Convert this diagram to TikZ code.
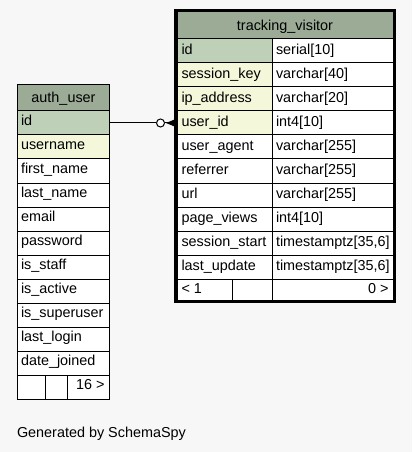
\documentclass[tikz,border=0pt]{standalone}
\usepackage{fontspec}
\setmainfont{Liberation Sans}
\usetikzlibrary{calc}
\definecolor{bgc}{HTML}{F7F7F7}
\definecolor{hdrc}{HTML}{9BAB96}
\definecolor{pkc}{HTML}{BED1B8}
\definecolor{idxc}{HTML}{F4F7DA}
\newcommand\cellbox[6]{\node[cellst, fill=#6, minimum width={(#4-#2)*0.75pt}, minimum height={(#5-#3)*0.75pt}] (#1) at ({(#2+#4)/2},{(#3+#5)/2}) {};}
\newcommand\tvrow[4]{%
  \pgfmathsetmacro\ya{39+24*(#1-1)}\pgfmathsetmacro\yb{\ya+24}%
  \cellbox{tvn#1}{177}{\ya}{272}{\yb}{#4}%
  \cellbox{tvt#1}{272}{\ya}{393}{\yb}{white}%
  \node[txt,anchor=base west] (tvnt#1) at (181.5,\ya+15.3) {#2};%
  \node[txt,anchor=base west] (tvtt#1) at (276,\ya+15.3) {#3};}
\newcommand\aurow[3]{%
  \pgfmathsetmacro\ya{111+24*(#1-1)}\pgfmathsetmacro\yb{\ya+24}%
  \cellbox{au#1}{17.5}{\ya}{109.5}{\yb}{#3}%
  \node[txt,anchor=base west] (aut#1) at (21,\ya+14.8) {#2};}
\begin{document}
\begin{tikzpicture}[x=0.75pt,y=-0.75pt,
  cellst/.style={draw=black, line width=0.75pt, inner sep=0pt, outer sep=0pt, rectangle},
  txt/.style={inner sep=0pt, outer sep=0pt, font=\fontsize{10.8pt}{13pt}\selectfont}]
\fill[bgc] (0,0) rectangle (412,452);
\useasboundingbox (0,0) rectangle (412,452);

% tracking_visitor
\cellbox{tvh}{177}{12}{393}{39}{hdrc}
\node[txt,anchor=base] (tvht) at (285,31) {tracking\_visitor};
\tvrow{1}{id}{serial[10]}{pkc}
\tvrow{2}{session\_key}{varchar[40]}{idxc}
\tvrow{3}{ip\_address}{varchar[20]}{idxc}
\tvrow{4}{user\_id}{int4[10]}{idxc}
\tvrow{5}{user\_agent}{varchar[255]}{white}
\tvrow{6}{referrer}{varchar[255]}{white}
\tvrow{7}{url}{varchar[255]}{white}
\tvrow{8}{page\_views}{int4[10]}{white}
\tvrow{9}{session\_start}{timestamptz[35,6]}{white}
\tvrow{10}{last\_update}{timestamptz[35,6]}{white}
\cellbox{tvf1}{177}{279}{232}{300}{white}
\cellbox{tvf2}{232}{279}{272}{300}{white}
\cellbox{tvf3}{272}{279}{393}{300}{white}
\node[txt,anchor=base west] (tvf1t) at (181.5,293) {< 1};
\node[txt,anchor=base east] (tvf3t) at (388.5,293) {0 >};
\draw[line width=2.4pt] (175.5,10.5) rectangle (394.5,301.3);

% auth_user
\cellbox{auh}{17.5}{85}{109.5}{111}{hdrc}
\node[txt,anchor=base] (auht) at (63.5,103) {auth\_user};
\aurow{1}{id}{pkc}
\aurow{2}{username}{idxc}
\aurow{3}{first\_name}{white}
\aurow{4}{last\_name}{white}
\aurow{5}{email}{white}
\aurow{6}{password}{white}
\aurow{7}{is\_staff}{white}
\aurow{8}{is\_active}{white}
\aurow{9}{is\_superuser}{white}
\aurow{10}{last\_login}{white}
\aurow{11}{date\_joined}{white}
\cellbox{auf1}{17.5}{375}{45.5}{399}{white}
\cellbox{auf2}{45.5}{375}{67.5}{399}{white}
\cellbox{auf3}{67.5}{375}{109.5}{399}{white}
\node[txt,anchor=base east] (auf3t) at (104.5,389) {16 >};

% connector
\node[circle, draw=black, fill=white, line width=0.75pt, minimum size=6pt, inner sep=0pt] (odot) at (160.5,123) {};
\draw[line width=0.75pt] (au1.east) -- (odot.west);
\draw[line width=0.75pt] (odot.east) -- (odot.east -| tvn4.west);
\fill[black] ($(odot.east -| tvn4.west)+(-11,0)$) -- ($(odot.east -| tvn4.west)+(0,-4.5)$) -- ($(odot.east -| tvn4.west)+(0,4.5)$) -- cycle;

\node[txt,anchor=base west] (gen) at (17,437) {Generated by SchemaSpy};
\end{tikzpicture}
\end{document}
